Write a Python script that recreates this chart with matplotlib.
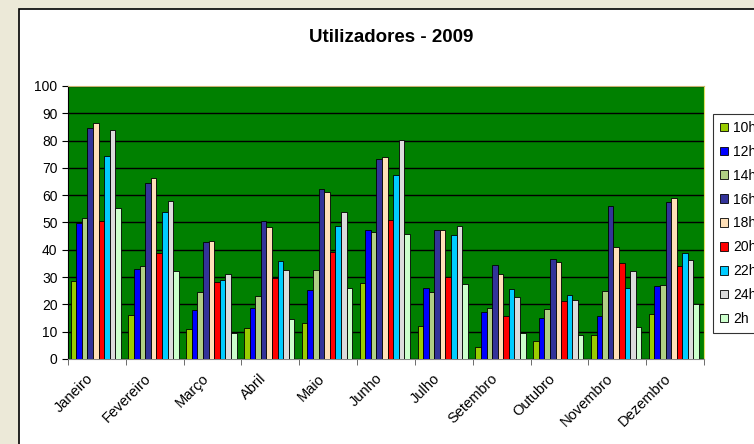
import numpy as np
import matplotlib
matplotlib.use('Agg')
from matplotlib import pyplot as plt
from matplotlib.patches import Rectangle
from matplotlib.transforms import ScaledTranslation

plt.rcParams['font.family'] = ['Liberation Sans', 'DejaVu Sans']

meses = ['Janeiro', 'Fevereiro', 'Março', 'Abril', 'Maio', 'Junho',
         'Julho', 'Setembro', 'Outubro', 'Novembro', 'Dezembro']
horas = ['10h', '12h', '14h', '16h', '18h', '20h', '22h', '24h', '2h']

h10 = [28.4, 16.1, 11.1, 11.5, 13.2, 27.7, 12.1, 4.5, 6.5, 8.9, 16.5]
h12 = [49.8, 32.8, 18.0, 18.7, 25.1, 47.4, 25.9, 17.2, 15.1, 15.7, 26.7]
h14 = [51.6, 34.1, 24.5, 23.0, 32.7, 46.7, 24.5, 18.7, 18.3, 24.9, 27.0]
h16 = [84.5, 64.3, 42.8, 50.7, 62.4, 73.2, 47.2, 34.6, 36.7, 56.0, 57.4]
h18 = [86.3, 66.3, 43.2, 48.3, 61.2, 73.9, 47.4, 31.0, 35.7, 41.1, 58.9]
h20 = [50.5, 38.9, 28.2, 29.5, 39.1, 50.9, 30.0, 15.7, 21.3, 35.1, 33.9]
h22 = [74.3, 53.8, 29.1, 36.0, 48.7, 67.4, 45.4, 25.5, 23.4, 25.9, 38.7]
h24 = [83.7, 57.7, 31.0, 32.7, 54.0, 80.4, 48.7, 22.6, 21.6, 32.1, 36.3]
h2 = [55.2, 32.4, 9.6, 14.6, 25.9, 45.7, 27.3, 9.6, 8.9, 11.8, 20.1]

series = [h10, h12, h14, h16, h18, h20, h22, h24, h2]
cores = ['#99CC00', '#0000FF', '#B0CF84', '#333399', '#FFE0B8',
         '#FF0000', '#00CCFF', '#DCDCDC', '#CCFFCC']

fig = plt.figure(figsize=(7.54, 4.44), dpi=100, facecolor='#ECE9D8')
# moldura branca do grafico
fig.patches.append(Rectangle((18.5 / 754, -0.1), 1.2, 1 - 9 / 444 + 0.1,
                             transform=fig.transFigure, facecolor='white',
                             edgecolor='black', linewidth=1.2, zorder=-5))

ax = fig.add_axes([68 / 754, 1 - 359 / 444, (704 - 68) / 754, (359 - 86) / 444])
ax.set_facecolor('#008000')

x = np.arange(len(meses))
n = len(series)
w = 0.87 / n
for i, (vals, cor, lab) in enumerate(zip(series, cores, horas)):
    pos = x - 0.435 - 0.02 + w * (i + 0.5)
    ax.bar(pos, vals, width=w, color=cor, edgecolor='black', linewidth=0.6,
           label=lab, zorder=3)

ax.set_xlim(-0.5, len(meses) - 0.5)
ax.set_ylim(0, 100)
ax.set_yticks(range(0, 101, 10))
ax.yaxis.grid(True, color='black', linewidth=1.0, zorder=1)
ax.set_axisbelow(True)
ax.tick_params(axis='y', labelsize=10, length=4, direction='out', color='black')

ax.set_xticks(x)
ax.set_xticklabels(meses, rotation=45, ha='right', rotation_mode='anchor', fontsize=10.5)
ax.tick_params(axis='x', which='major', length=0, pad=6)
ax.set_xticks(np.arange(-0.5, len(meses)), minor=True)
ax.tick_params(axis='x', which='minor', length=4, color='#555555')
desloc = ScaledTranslation(-11 / 100, -4 / 100, fig.dpi_scale_trans)
for t in ax.get_xticklabels():
    t.set_transform(t.get_transform() + desloc)

ax.spines['top'].set_color('#C8B46E')
ax.spines['right'].set_color('#E0E060')
ax.spines['left'].set_color('black')
ax.spines['bottom'].set_color('#888888')

fig.text(391 / 754, 1 - 37 / 444, 'Utilizadores - 2009', ha='center', va='center',
         fontsize=13.5, fontweight='bold')

leg = fig.legend(loc='upper left', bbox_to_anchor=(713 / 754, 1 - 114 / 444),
                 fontsize=10, frameon=True, fancybox=False, edgecolor='black',
                 handlelength=0.6, handleheight=0.6, handletextpad=0.35,
                 labelspacing=0.71, borderpad=0.5, borderaxespad=0)
leg.get_frame().set_linewidth(0.8)

fig.savefig('out.png', dpi=100, facecolor=fig.get_facecolor())
